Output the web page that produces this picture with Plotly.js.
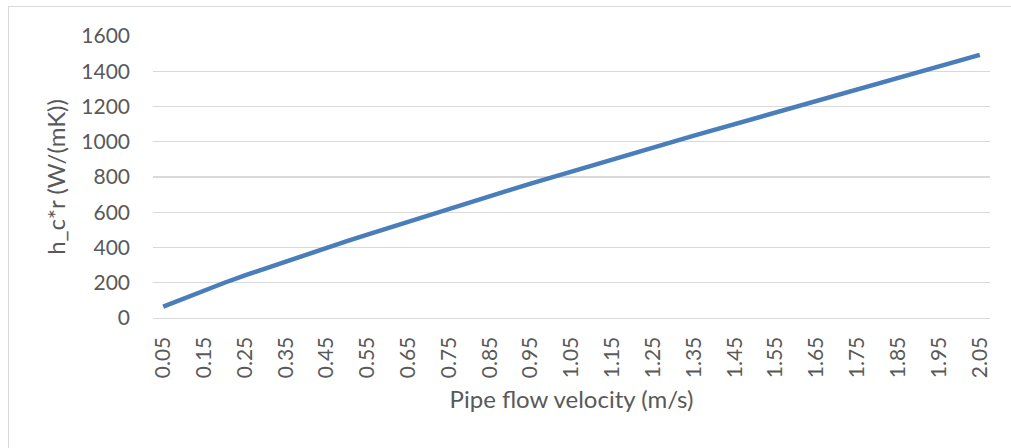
<!DOCTYPE html>
<html>
<head>
<meta charset="utf-8">
<script src="https://cdn.plot.ly/plotly-3.0.1.min.js"></script>
<style>
  html, body { margin: 0; padding: 0; background: #ffffff; overflow: hidden; }
  #frame { position: absolute; left: 8px; top: 6px; width: 1100px; height: 500px;
           border: 1px solid #d9d9d9; box-sizing: border-box; }
  #chart { position: absolute; left: 0; top: 0; width: 1011px; height: 448px; }
</style>
</head>
<body>
<div id="frame"></div>
<div id="chart"></div>
<script>
// Pipe flow velocity (m/s), one sample every 0.05 m/s
const velocity = [
  0.05, 0.10, 0.15, 0.20, 0.25, 0.30, 0.35, 0.40, 0.45, 0.50,
  0.55, 0.60, 0.65, 0.70, 0.75, 0.80, 0.85, 0.90, 0.95, 1.00,
  1.05, 1.10, 1.15, 1.20, 1.25, 1.30, 1.35, 1.40, 1.45, 1.50,
  1.55, 1.60, 1.65, 1.70, 1.75, 1.80, 1.85, 1.90, 1.95, 2.00, 2.05
];

// Convective coefficient times radius, h_c*r (W/(mK))
const hcr = [
  65, 112, 157, 200, 242, 282, 321, 360, 398, 436,
  473, 510, 547, 584, 620, 656, 692, 727, 762, 797,
  832, 866, 900, 934, 968, 1001, 1035, 1068, 1101, 1134,
  1167, 1200, 1233, 1266, 1298, 1331, 1363, 1396, 1428, 1461, 1493
];

// Every other velocity is labelled on the axis
const tickValues = velocity.filter((v, i) => i % 2 === 0);
const tickLabels = tickValues.map(v => v.toFixed(2));

const textColor = '#595959';
const gridColor = '#d9d9d9';
const fontFamily = 'Lato, "Open Sans", sans-serif';

const trace = {
  x: velocity,
  y: hcr,
  type: 'scatter',
  mode: 'lines',
  line: { color: '#4a7ebb', width: 4.5 },
  hoverinfo: 'x+y'
};

const layout = {
  width: 1011,
  height: 448,
  margin: { l: 153, r: 21, t: 36, b: 130 },
  paper_bgcolor: 'rgba(0,0,0,0)',
  plot_bgcolor: 'rgba(0,0,0,0)',
  showlegend: false,
  font: { family: fontFamily, color: textColor, size: 21 },
  xaxis: {
    range: [0.025, 2.075],
    tickmode: 'array',
    tickvals: tickValues,
    ticktext: tickLabels,
    tickangle: -90,
    ticks: '',
    ticklabelstandoff: 9,
    showgrid: false,
    zeroline: false,
    showline: true,
    linecolor: gridColor,
    linewidth: 1.3,
    tickfont: { family: fontFamily, color: textColor, size: 21 },
    title: {
      text: 'Pipe flow velocity (m/s)',
      font: { family: fontFamily, color: textColor, size: 24 },
      standoff: 14
    }
  },
  yaxis: {
    range: [0, 1600],
    dtick: 200,
    ticks: '',
    ticklabelstandoff: 22,
    showgrid: true,
    gridcolor: gridColor,
    gridwidth: 1.3,
    zeroline: false,
    showline: false,
    tickfont: { family: fontFamily, color: textColor, size: 21 },
    title: {
      text: 'h_c*r (W/(mK))',
      font: { family: fontFamily, color: textColor, size: 24 },
      standoff: 8
    }
  }
};

Plotly.newPlot('chart', [trace], layout, { displayModeBar: false, staticPlot: true });
</script>
</body>
</html>
